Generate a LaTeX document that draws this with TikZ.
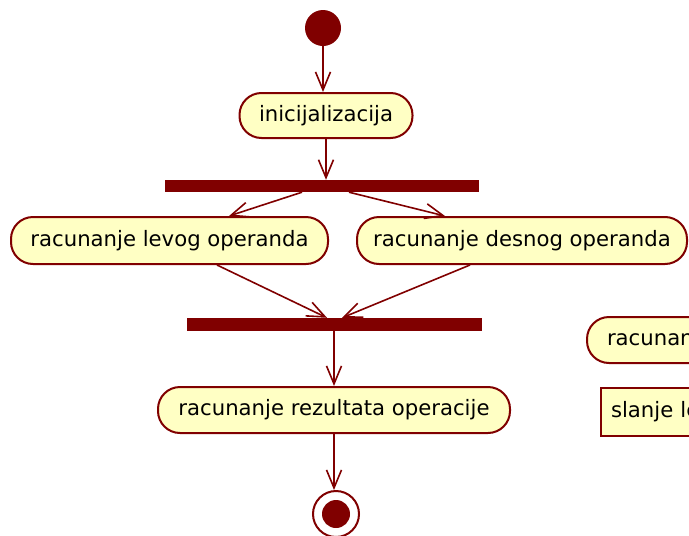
\documentclass[tikz,border=0pt]{standalone}
\usepackage{fontspec}
\setmainfont{DejaVu Sans}
\usetikzlibrary{arrows.meta,calc}
\definecolor{umlred}{HTML}{800000}
\definecolor{umlfill}{HTML}{FFFFC4}
\tikzset{
  action/.style={draw=umlred, fill=umlfill, line width=2pt, rounded corners=22pt,
    inner sep=0pt, font=\fontsize{21.2}{25}\selectfont, text=black},
  plainbox/.style={draw=umlred, fill=umlfill, line width=2pt,
    inner sep=0pt, font=\fontsize{21.2}{25}\selectfont, text=black},
  syncbar/.style={draw=none, fill=umlred, inner sep=0pt},
  flow/.style={draw=umlred, line width=1.6pt, -{Straight Barb[length=18pt,width=15pt,line width=1.6pt]}},
}
\begin{document}
\begin{tikzpicture}[x=1pt,y=-1pt]
  \useasboundingbox (0,0) rectangle (689,536);
  \clip (0,0) rectangle (689,536);
  % start node
  \node[circle, fill=umlred, minimum size=36pt, inner sep=0pt] (start) at (323,28) {};
  % actions
  \node[action, minimum width=173pt, minimum height=45pt] (init) at (326,115.5) {inicijalizacija};
  \node[syncbar, minimum width=314pt, minimum height=12pt] (fork) at (322,186) {};
  \node[action, minimum width=317pt, minimum height=47pt] (left) at (169.5,240.5) {racunanje levog operanda};
  \node[action, minimum width=330pt, minimum height=47pt] (right) at (522,240.5) {racunanje desnog operanda};
  \node[syncbar, minimum width=295pt, minimum height=13pt] (join) at (334.5,324.5) {};
  \node[action, minimum width=352pt, minimum height=46pt] (result) at (334,410) {racunanje rezultata operacije};
  % final node
  \node[circle, draw=umlred, line width=2pt, fill=white, minimum size=46pt, inner sep=0pt] (final) at (336,514) {};
  \node[circle, fill=umlred, minimum size=28pt, inner sep=0pt] (finaldot) at (final.center) {};
  % further elements at the right edge
  \node[action, anchor=west, minimum height=46pt, text width=200pt, align=left,
        inner xsep=20pt] (calc) at (586,340) {racunanje};
  \node[plainbox, anchor=west, minimum height=48pt, text width=200pt, align=left,
        inner xsep=10pt] (send) at (600,412) {slanje levog};
  % control flows
  \draw[flow] (start.south) -- (init.north -| start.south);
  \draw[flow] (init.south) -- (fork.north -| init.south);
  \draw[flow] ($(fork.south)+(-20,0)$) -- ($(left.north)+(59.5,0)$);
  \draw[flow] ($(fork.south)+(27,0)$) -- ($(right.north)+(-77,0)$);
  \draw[flow] ($(left.south)+(47.5,0)$) -- ($(join.north)+(-7.5,0)$);
  \draw[flow] ($(right.south)+(-52,0)$) -- ($(join.north)+(7.5,0)$);
  \draw[flow] (join.south -| result.north) -- (result.north);
  \draw[flow] (result.south) -- (final.north -| result.south);
\end{tikzpicture}
\end{document}
